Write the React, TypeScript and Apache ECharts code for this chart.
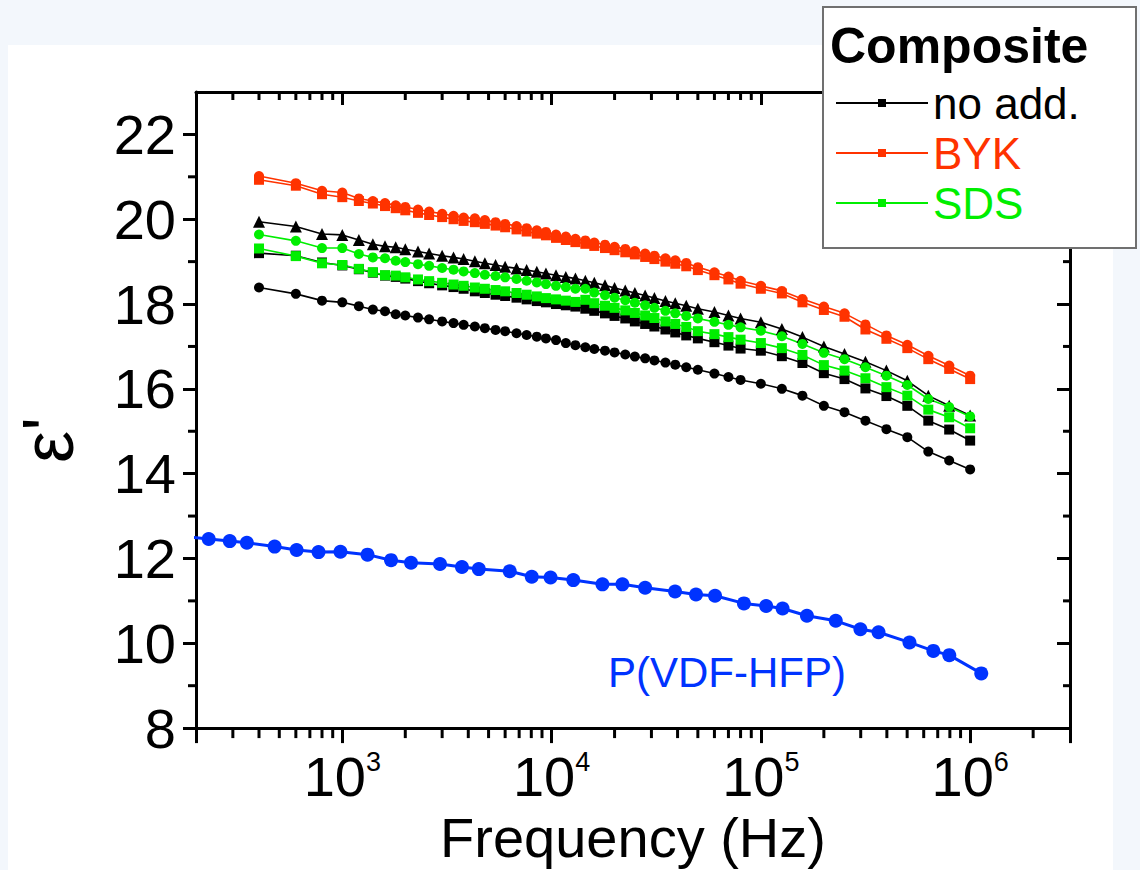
import React, { useEffect, useRef } from 'react';
import * as echarts from 'echarts';

const FONT = 'Liberation Sans, Arial, Helvetica, sans-serif';

// Frequencies (Hz) of the composite measurements
const FREQ = [400, 600, 800, 1000, 1200, 1400, 1600, 1800, 2000, 2300, 2600, 3000, 3400, 3800, 4300, 4800, 5400, 6000,
  6800, 7600, 8500, 9400, 10500, 11700, 13000, 14500, 16000, 18000, 20000, 22500, 25000, 28000, 31000, 35000, 39000,
  44000, 50000, 60000, 70000, 80000, 100000, 126000, 158000, 200000, 251000, 316000, 398000, 501000, 631000, 794000, 1000000];

const NOADD_CIRCLE = [18.39, 18.24, 18.08, 18.04, 17.95, 17.87, 17.83, 17.76, 17.73, 17.68, 17.64, 17.59, 17.55, 17.51,
  17.47, 17.43, 17.39, 17.36, 17.31, 17.27, 17.23, 17.19, 17.15, 17.08, 17.03, 16.98, 16.94, 16.90, 16.86, 16.81, 16.76,
  16.72, 16.67, 16.62, 16.57, 16.51, 16.45, 16.36, 16.28, 16.21, 16.12, 16.00, 15.84, 15.60, 15.45, 15.25, 15.05, 14.86,
  14.52, 14.31, 14.10];

const NOADD_TRIANGLE = [19.94, 19.83, 19.65, 19.63, 19.51, 19.41, 19.36, 19.34, 19.29, 19.24, 19.19, 19.14, 19.10, 19.06,
  19.01, 18.96, 18.92, 18.88, 18.84, 18.80, 18.76, 18.72, 18.68, 18.64, 18.60, 18.55, 18.50, 18.44, 18.38, 18.32, 18.26,
  18.20, 18.14, 18.07, 18.02, 17.96, 17.89, 17.81, 17.73, 17.66, 17.57, 17.41, 17.22, 17.00, 16.82, 16.64, 16.43, 16.19,
  15.84, 15.60, 15.37];

const NOADD_SQUARE = [19.20, 19.14, 18.98, 18.91, 18.82, 18.74, 18.67, 18.64, 18.60, 18.54, 18.49, 18.44, 18.40, 18.36,
  18.30, 18.26, 18.22, 18.19, 18.15, 18.11, 18.07, 18.04, 18.00, 17.97, 17.94, 17.89, 17.84, 17.78, 17.72, 17.66, 17.59,
  17.53, 17.47, 17.40, 17.33, 17.26, 17.19, 17.10, 17.02, 16.95, 16.90, 16.77, 16.61, 16.37, 16.23, 16.01, 15.83, 15.60,
  15.25, 15.04, 14.78];

const SDS_CIRCLE = [19.64, 19.49, 19.32, 19.32, 19.18, 19.10, 19.08, 19.02, 18.99, 18.94, 18.90, 18.85, 18.81, 18.77,
  18.73, 18.69, 18.66, 18.63, 18.59, 18.55, 18.51, 18.47, 18.43, 18.40, 18.36, 18.36, 18.27, 18.21, 18.15, 18.09, 18.03,
  17.97, 17.91, 17.84, 17.78, 17.72, 17.66, 17.58, 17.51, 17.45, 17.37, 17.24, 17.06, 16.85, 16.70, 16.51, 16.31, 16.09,
  15.76, 15.57, 15.35];

const SDS_SQUARE = [19.31, 19.13, 18.96, 18.92, 18.83, 18.75, 18.68, 18.67, 18.63, 18.58, 18.54, 18.50, 18.46, 18.43,
  18.39, 18.36, 18.33, 18.30, 18.26, 18.22, 18.18, 18.14, 18.11, 18.08, 18.05, 18.10, 18.02, 17.96, 17.91, 17.85, 17.79,
  17.73, 17.67, 17.59, 17.53, 17.46, 17.36, 17.29, 17.22, 17.16, 17.08, 16.96, 16.80, 16.56, 16.43, 16.25, 16.04, 15.84,
  15.51, 15.33, 15.07];

const BYK_CIRCLE = [21.02, 20.85, 20.67, 20.63, 20.49, 20.43, 20.38, 20.33, 20.29, 20.23, 20.18, 20.13, 20.08, 20.04,
  20.02, 19.98, 19.93, 19.89, 19.84, 19.79, 19.74, 19.70, 19.64, 19.59, 19.54, 19.50, 19.45, 19.40, 19.35, 19.30, 19.25,
  19.19, 19.14, 19.08, 19.03, 18.97, 18.87, 18.75, 18.65, 18.55, 18.43, 18.31, 18.12, 17.94, 17.78, 17.52, 17.26, 17.04,
  16.78, 16.55, 16.31];

const BYK_SQUARE = [20.93, 20.79, 20.59, 20.52, 20.43, 20.37, 20.31, 20.26, 20.21, 20.15, 20.10, 20.05, 20.00, 19.96,
  19.93, 19.89, 19.85, 19.81, 19.76, 19.71, 19.66, 19.62, 19.56, 19.51, 19.46, 19.42, 19.37, 19.32, 19.27, 19.22, 19.17,
  19.11, 19.06, 19.00, 18.95, 18.89, 18.80, 18.68, 18.58, 18.48, 18.36, 18.25, 18.04, 17.86, 17.70, 17.40, 17.18, 16.96,
  16.70, 16.47, 16.23];

// Pure P(VDF-HFP)
const PVDF_FREQ = [190, 230, 290, 350, 475, 605, 770, 980, 1320, 1710, 2130, 2930, 3730, 4490, 6310, 8040, 9890, 12700,
  17500, 21800, 28000, 38900, 49000, 60400, 83000, 106000, 127000, 166000, 228000, 299000, 365000, 513000, 667000,
  795000, 1130000];
const PVDF_VALUES = [12.50, 12.46, 12.41, 12.37, 12.28, 12.20, 12.15, 12.16, 12.09, 11.96, 11.90, 11.87, 11.80, 11.75,
  11.70, 11.57, 11.55, 11.49, 11.39, 11.39, 11.31, 11.22, 11.15, 11.12, 10.94, 10.88, 10.82, 10.65, 10.53, 10.33, 10.26,
  10.02, 9.82, 9.72, 9.29];

// Axis settings
const X_MIN = 200;
const X_MAX = 3000000;
const Y_MIN = 8;
const Y_MAX = 23;
const X_MINOR = [300, 400, 500, 600, 700, 800, 900, 2000, 3000, 4000, 5000, 6000, 7000, 8000, 9000, 20000, 30000, 40000,
  50000, 60000, 70000, 80000, 90000, 200000, 300000, 400000, 500000, 600000, 700000, 800000, 900000, 2000000];
const Y_MINOR = [9, 11, 13, 15, 17, 19, 21];

const LEGEND_ITEMS = ['no add.', 'BYK', 'SDS'];

const RED = '#ff3300';
const GREEN = '#00ee00';
const BLACK = '#000000';
const BLUE = '#0033ff';

const pair = (xs: number[], ys: number[]) => xs.map((x, i) => [x, ys[i]]);

function line(name: string, ys: number[], color: string, symbol: string, size: number) {
  return {
    type: 'line',
    name,
    data: pair(FREQ, ys),
    symbol,
    symbolSize: size,
    showSymbol: true,
    lineStyle: { color, width: 1.6 },
    itemStyle: { color },
    z: 5,
    silent: true,
    emphasis: { disabled: true },
  };
}

export default function App() {
  const ref = useRef<HTMLDivElement>(null);
  useEffect(() => {
    if (!ref.current) return;
    const chart = echarts.init(ref.current, undefined, { renderer: 'svg' });
    const isPow = (v: number) => {
      const e = Math.log10(v);
      return Math.abs(e - Math.round(e)) < 1e-6;
    };
    const option: any = {
      animation: false,
      backgroundColor: '#f3f7fc',
      textStyle: { fontFamily: FONT },
      grid: { left: 196, right: 70, top: 92, bottom: 140, containLabel: false },
      xAxis: [
        {
          type: 'log', logBase: 10, min: X_MIN, max: X_MAX, position: 'bottom',
          axisLine: { onZero: false, lineStyle: { color: BLACK, width: 3 } },
          axisTick: { inside: false, length: 15, lineStyle: { color: BLACK, width: 3 } },
          splitLine: { show: false },
          axisLabel: {
            margin: 20,
            color: BLACK,
            formatter: (v: number) => (isPow(v) ? '{b|10}{s|' + Math.round(Math.log10(v)) + '}' : ''),
            rich: {
              b: { fontSize: 56, lineHeight: 56, fontFamily: FONT, color: BLACK },
              s: { fontSize: 27, lineHeight: 30, verticalAlign: 'top', fontFamily: FONT, color: BLACK },
            },
          },
          name: 'Frequency (Hz)', nameLocation: 'middle', nameGap: 76,
          nameTextStyle: { fontSize: 56, lineHeight: 56, color: BLACK, fontFamily: FONT },
        },
        {
          type: 'log', logBase: 10, min: X_MIN, max: X_MAX, position: 'top',
          axisLine: { onZero: false, lineStyle: { color: BLACK, width: 3 } },
          axisTick: { inside: true, length: 13, lineStyle: { color: BLACK, width: 3 } },
          axisLabel: { show: false },
          splitLine: { show: false },
        },
      ],
      yAxis: [
        {
          type: 'value', min: Y_MIN, max: Y_MAX, interval: 2, position: 'left',
          axisLine: { onZero: false, lineStyle: { color: BLACK, width: 3 } },
          axisTick: { inside: false, length: 13, lineStyle: { color: BLACK, width: 3 } },
          splitLine: { show: false },
          axisLabel: {
            margin: 20, fontSize: 56, color: BLACK, fontFamily: FONT, showMaxLabel: false,
            formatter: (v: number) => (v === Y_MAX ? '' : String(v)),
          },
          name: "ε'", nameLocation: 'middle', nameRotate: 90, nameGap: 112,
          nameTextStyle: { fontSize: 72, color: BLACK, fontFamily: FONT, padding: [0, 60, 0, 0] },
        },
        {
          type: 'value', min: Y_MIN, max: Y_MAX, interval: 2, position: 'right',
          axisLine: { onZero: false, lineStyle: { color: BLACK, width: 3 } },
          axisTick: { inside: true, length: 13, lineStyle: { color: BLACK, width: 3 } },
          axisLabel: { show: false },
          splitLine: { show: false },
        },
      ],
      legend: {
        orient: 'vertical',
        left: 835,
        top: 78,
        padding: 0,
        itemGap: 0,
        itemWidth: 92,
        itemHeight: 10,
        selectedMode: false,
        z: 60,
        textStyle: { fontSize: 44, lineHeight: 50, fontFamily: FONT },
        data: [
          { name: LEGEND_ITEMS[0], textStyle: { color: BLACK } },
          { name: LEGEND_ITEMS[1], textStyle: { color: RED } },
          { name: LEGEND_ITEMS[2], textStyle: { color: GREEN } },
        ],
      },
      graphic: [
        { type: 'rect', z: -1, silent: true, shape: { x: 8, y: 45, width: 1105, height: 830 }, style: { fill: '#ffffff' } },
        {
          type: 'rect', z: 50, silent: true, shape: { x: 823, y: 7, width: 313, height: 241 },
          style: { fill: '#ffffff', stroke: '#707070', lineWidth: 2 },
        },
        {
          type: 'text', z: 51, silent: true, x: 830, y: 46,
          style: { text: 'Composite', fontSize: 50, fontWeight: 'bold', fontFamily: FONT, fill: BLACK, verticalAlign: 'middle', align: 'left' },
        },
        {
          type: 'text', z: 10, silent: true, x: 608, y: 672,
          style: { text: 'P(VDF-HFP)', fontSize: 42, fontFamily: FONT, fill: BLUE, verticalAlign: 'middle', align: 'left' },
        },
      ],
      series: [
        line('no add. ●', NOADD_CIRCLE, BLACK, 'circle', 10),
        line('no add. ▲', NOADD_TRIANGLE, BLACK, 'triangle', 12),
        line(LEGEND_ITEMS[0], NOADD_SQUARE, BLACK, 'rect', 10),
        line(LEGEND_ITEMS[2], SDS_SQUARE, GREEN, 'rect', 10),
        line('SDS ●', SDS_CIRCLE, GREEN, 'circle', 10),
        line(LEGEND_ITEMS[1], BYK_SQUARE, RED, 'rect', 10),
        line('BYK ●', BYK_CIRCLE, RED, 'circle', 10),
        {
          type: 'line', name: 'P(VDF-HFP)', data: pair(PVDF_FREQ, PVDF_VALUES),
          symbol: 'circle', symbolSize: 14, showSymbol: true,
          lineStyle: { color: BLUE, width: 3 }, itemStyle: { color: BLUE }, z: 5, silent: true,
          emphasis: { disabled: true },
        },
        {
          type: 'custom', name: 'x minor ticks', silent: true, z: 3,
          data: X_MINOR.map((f) => [f, Y_MIN]),
          encode: { x: 0, y: 1 },
          renderItem: (_p: any, api: any) => {
            const b = api.coord([api.value(0), Y_MIN]);
            const t = api.coord([api.value(0), Y_MAX]);
            return {
              type: 'group',
              children: [
                { type: 'line', shape: { x1: b[0], y1: b[1], x2: b[0], y2: b[1] + 10 }, style: { stroke: BLACK, lineWidth: 3 } },
                { type: 'line', shape: { x1: t[0], y1: t[1], x2: t[0], y2: t[1] + 8 }, style: { stroke: BLACK, lineWidth: 3 } },
              ],
            };
          },
        },
        {
          type: 'custom', name: 'y minor ticks', silent: true, z: 3,
          data: Y_MINOR.map((v) => [X_MIN, v]),
          encode: { x: 0, y: 1 },
          renderItem: (_p: any, api: any) => {
            const l = api.coord([X_MIN, api.value(1)]);
            const r = api.coord([X_MAX, api.value(1)]);
            return {
              type: 'group',
              children: [
                { type: 'line', shape: { x1: l[0] - 8, y1: l[1], x2: l[0], y2: l[1] }, style: { stroke: BLACK, lineWidth: 3 } },
                { type: 'line', shape: { x1: r[0] - 7, y1: r[1], x2: r[0], y2: r[1] }, style: { stroke: BLACK, lineWidth: 3 } },
              ],
            };
          },
        },
      ],
    };
    chart.setOption(option);
    return () => chart.dispose();
  }, []);
  return <div ref={ref} style={{ position: 'absolute', left: 0, top: 0, width: 1140, height: 870 }} />;
}
